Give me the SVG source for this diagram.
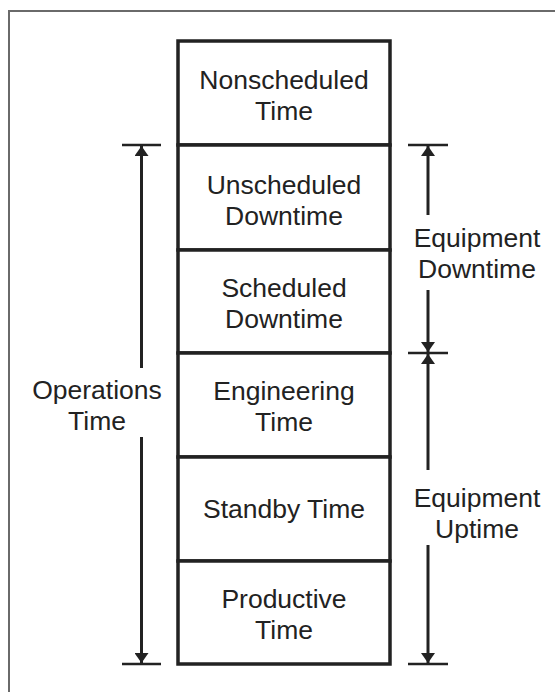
<svg xmlns="http://www.w3.org/2000/svg" width="555" height="692" viewBox="0 0 555 692">
  <style>
    .frame { fill: none; stroke: #6a6a6a; stroke-width: 2; }
    .cell { fill: #ffffff; stroke: #222222; stroke-width: 3.5; }
    .lbl { font-family: "Liberation Sans", Arial, Helvetica, sans-serif; font-size: 26.5px; fill: #222222; text-anchor: middle; }
    .dim { stroke: #222222; stroke-width: 3; fill: none; }
    .tick { stroke: #222222; stroke-width: 2.5; }
  </style>
  <defs>
    <marker id="head" viewBox="0 0 10 14" refX="10" refY="7" markerWidth="10" markerHeight="14" markerUnits="userSpaceOnUse" orient="auto">
      <path d="M0,0 L10,7 L0,14 Z" fill="#222222"/>
    </marker>
  </defs>
  <rect class="frame" x="9" y="11" width="600" height="700"/>

  <g id="nonscheduled">
    <rect class="cell" x="178" y="41" width="212" height="104"/>
    <text class="lbl" x="284" y="89">Nonscheduled</text>
    <text class="lbl" x="284" y="120">Time</text>
  </g>
  <g id="unscheduled-downtime">
    <rect class="cell" x="178" y="145" width="212" height="105"/>
    <text class="lbl" x="284" y="194">Unscheduled</text>
    <text class="lbl" x="284" y="225">Downtime</text>
  </g>
  <g id="scheduled-downtime">
    <rect class="cell" x="178" y="250" width="212" height="103"/>
    <text class="lbl" x="284" y="297">Scheduled</text>
    <text class="lbl" x="284" y="328">Downtime</text>
  </g>
  <g id="engineering">
    <rect class="cell" x="178" y="353" width="212" height="104"/>
    <text class="lbl" x="284" y="400">Engineering</text>
    <text class="lbl" x="284" y="431">Time</text>
  </g>
  <g id="standby">
    <rect class="cell" x="178" y="457" width="212" height="104"/>
    <text class="lbl" x="284" y="518">Standby Time</text>
  </g>
  <g id="productive">
    <rect class="cell" x="178" y="561" width="212" height="103"/>
    <text class="lbl" x="284" y="608">Productive</text>
    <text class="lbl" x="284" y="639">Time</text>
  </g>

  <g id="operations-time">
    <text class="lbl" x="97" y="399">Operations</text>
    <text class="lbl" x="97" y="430">Time</text>
  </g>
  <g id="equipment-downtime">
    <text class="lbl" x="477" y="247">Equipment</text>
    <text class="lbl" x="477" y="278">Downtime</text>
  </g>
  <g id="equipment-uptime">
    <text class="lbl" x="477" y="507">Equipment</text>
    <text class="lbl" x="477" y="538">Uptime</text>
  </g>

  <g id="connectors">
    <!-- extension ticks -->
    <line class="tick" x1="122" y1="145" x2="161" y2="145"/>
    <line class="tick" x1="122" y1="664" x2="161" y2="664"/>
    <line class="tick" x1="408" y1="145" x2="448" y2="145"/>
    <line class="tick" x1="408" y1="353" x2="448" y2="353"/>
    <line class="tick" x1="408" y1="664" x2="448" y2="664"/>
    <!-- operations time span -->
    <line class="dim" x1="141.5" y1="368" x2="141.5" y2="146" marker-end="url(#head)"/>
    <line class="dim" x1="141.5" y1="437" x2="141.5" y2="663" marker-end="url(#head)"/>
    <!-- equipment downtime span -->
    <line class="dim" x1="428" y1="215" x2="428" y2="146" marker-end="url(#head)"/>
    <line class="dim" x1="428" y1="290" x2="428" y2="352" marker-end="url(#head)"/>
    <!-- equipment uptime span -->
    <line class="dim" x1="428" y1="470" x2="428" y2="354" marker-end="url(#head)"/>
    <line class="dim" x1="428" y1="545" x2="428" y2="663" marker-end="url(#head)"/>
  </g>
</svg>
